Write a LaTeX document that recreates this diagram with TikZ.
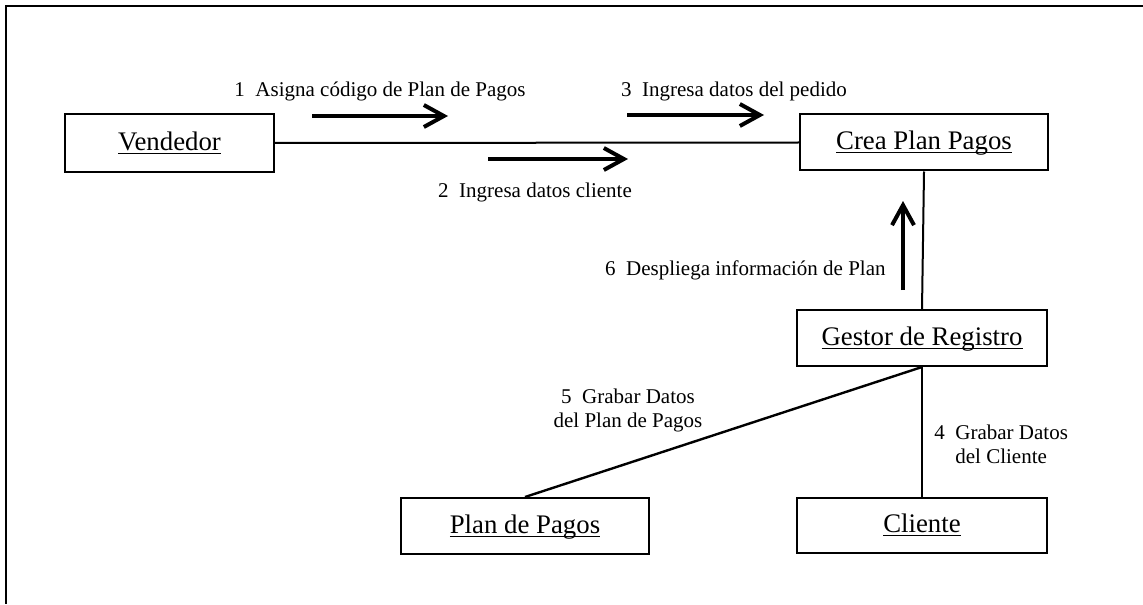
\documentclass[tikz,border=0pt]{standalone}
\usepackage{fontspec}
\setmainfont{Liberation Serif}
\usetikzlibrary{arrows.meta}
% object names: underlined at a fixed depth, through descenders
\newcommand\objname[1]{\underline{\raisebox{0pt}[\height][0pt]{#1}}}
\begin{document}
\begin{tikzpicture}[x=0.5pt,y=-0.5pt,
  objbox/.style={draw,line width=1pt,minimum width=124pt,minimum height=28pt,
    inner sep=0pt,font=\fontsize{13.4pt}{15pt}\selectfont},
  link/.style={line width=1pt},
  msg/.style={line width=2pt,-{Straight Barb[length=10pt,width=11pt,line width=2pt]}},
  lbl/.style={inner sep=0pt,font=\fontsize{10.5pt}{12pt}\selectfont}]
\useasboundingbox (0,0) rectangle (1143,604);
% frame
\draw[line width=1.2pt] (1143,6) -- (6,6) -- (6,604);
% objects
\node[objbox,minimum width=104.5pt,minimum height=29pt] (vend) at (169.5,143) {\objname{Vendedor}};
\node[objbox] (crea) at (924,142.5) {\objname{Crea Plan Pagos}};
\node[objbox,minimum width=125pt] (gest) at (922,338) {\objname{Gestor de Registro}};
\node[objbox] (plan) at (525,526) {\objname{Plan de Pagos}};
\node[objbox,minimum width=125pt,minimum height=27.5pt] (cli) at (922,525.5) {\objname{Cliente}};
% links
\draw[link] (vend.east) -- (crea.west);
\draw[link] (crea.south) -- (gest.north);
\draw[link] (gest.south) -- (cli.north);
\draw[link,line width=1.2pt] (gest.south) -- (plan.north);
% message arrows
\coordinate (m1a) at (312,116); \coordinate (m1b) at (448,116);
\coordinate (m3a) at (627,115); \coordinate (m3b) at (764,115);
\coordinate (m2a) at (488,159); \coordinate (m2b) at (628,159);
\coordinate (m6a) at (903,290); \coordinate (m6b) at (903,201);
\draw[msg] (m1a) -- (m1b);
\draw[msg] (m3a) -- (m3b);
\draw[msg] (m2a) -- (m2b);
\draw[msg] (m6a) -- (m6b);
% message labels
\node[lbl] (t1) at (380,91) {1\ \ Asigna código de Plan de Pagos};
\node[lbl] (t3) at (734,91) {3\ \ Ingresa datos del pedido};
\node[lbl] (t2) at (535,192) {2\ \ Ingresa datos cliente};
\node[lbl,anchor=east] (t6) at (886,270) {6\ \ Despliega información de Plan};
\node[lbl,align=center] (t5) at (628,410) {5\ \ Grabar Datos\\del Plan de Pagos};
\node[lbl,align=left,anchor=west] (t4) at (934,444) {4\ \ Grabar Datos\\\phantom{4\ \ }del Cliente};
\end{tikzpicture}
\end{document}
